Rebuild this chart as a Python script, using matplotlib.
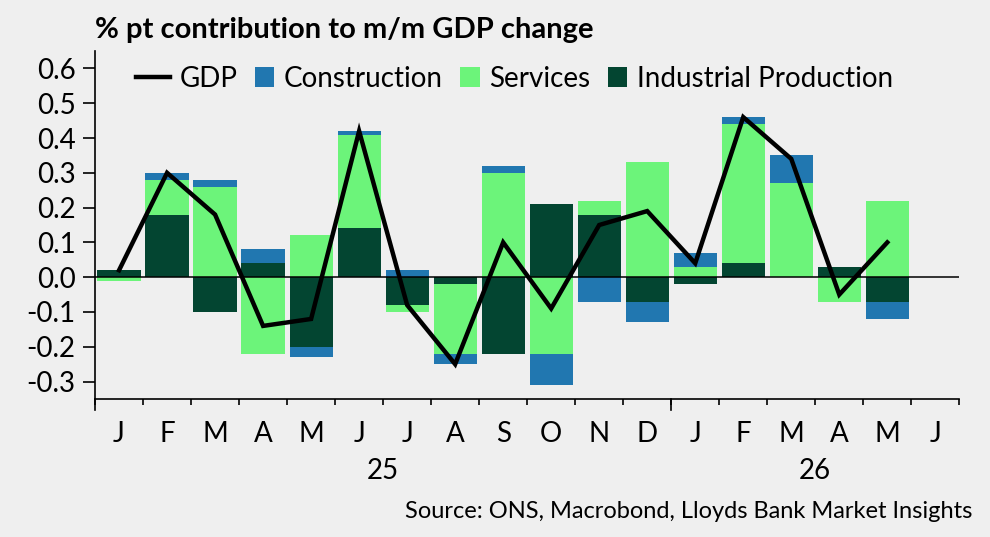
import numpy as np
import matplotlib
matplotlib.use("Agg")
from matplotlib import pyplot as plt
from matplotlib.lines import Line2D
from matplotlib.patches import Patch, Rectangle
from matplotlib.legend_handler import HandlerPatch

# monthly data, Jan 2025 - May 2026 (% pt contribution)
months = ["J", "F", "M", "A", "M", "J", "J", "A", "S", "O", "N", "D",
          "J", "F", "M", "A", "M", "J"]
years = ["25", "26"]
industrial = [0.02, 0.18, -0.10, 0.04, -0.20, 0.14, -0.08, -0.02, -0.22,
              0.21, 0.18, -0.07, -0.02, 0.04, 0.00, 0.03, -0.07]
services = [-0.01, 0.10, 0.26, -0.22, 0.12, 0.27, -0.02, -0.20, 0.30,
            -0.22, 0.04, 0.33, 0.03, 0.40, 0.27, -0.07, 0.22]
construction = [0.00, 0.02, 0.02, 0.04, -0.03, 0.01, 0.02, -0.03, 0.02,
                -0.09, -0.07, -0.06, 0.04, 0.02, 0.08, 0.00, -0.05]
gdp = [0.02, 0.30, 0.18, -0.14, -0.12, 0.42, -0.08, -0.25, 0.10,
       -0.09, 0.15, 0.19, 0.04, 0.46, 0.34, -0.05, 0.10]

bg = "#efefef"
c_con = "#2177b0"
c_ser = "#6cf47a"
c_ind = "#034531"
fs = 20


class SquareHandler(HandlerPatch):
    # square patch pushed to the right of the handle box
    def create_artists(self, legend, orig_handle, xdescent, ydescent,
                       width, height, fontsize, trans):
        s = fontsize * 0.7
        r = Rectangle((width - s - xdescent, -ydescent + (height - s) / 2), s, s,
                      facecolor=orig_handle.get_facecolor(), lw=0, transform=trans)
        return [r]


plt.rcParams['font.family'] = ['Lato', 'DejaVu Sans']

fig = plt.figure(figsize=(9.9, 5.37), dpi=100, facecolor=bg)
ax = fig.add_axes([0.096, 0.257, 0.873, 0.648], facecolor=bg)

x = np.arange(len(gdp))
pos = np.zeros(len(gdp))
neg = np.zeros(len(gdp))
for vals, col in [(industrial, c_ind), (services, c_ser), (construction, c_con)]:
    v = np.array(vals)
    bottom = np.where(v >= 0, pos, neg)
    ax.bar(x, v, 0.9, bottom=bottom, color=col, linewidth=0, zorder=2)
    pos = pos + np.where(v >= 0, v, 0)
    neg = neg + np.where(v < 0, v, 0)

ax.axhline(0, color="black", lw=1.1, zorder=3)
ax.plot(x, gdp, color="black", lw=3.2, zorder=4, solid_joinstyle="miter")

ax.set_xlim(-0.5, 17.5)
ax.set_ylim(-0.35, 0.65)
yt = np.arange(-0.3, 0.61, 0.1)
ax.set_yticks(yt)
ax.set_yticklabels(["%.1f" % t if abs(t) > 1e-9 else "0.0" for t in yt])
ax.tick_params(axis="y", labelsize=fs, length=9, width=1.2, pad=5)

# month labels centred in slots, ticks at month boundaries
ax.set_xticks(np.arange(-0.5, 18, 1))
ax.set_xticklabels([])
ax.tick_params(axis="x", length=4, width=1.2)
for i, m in enumerate(months):
    ax.text(i, -0.452, m, ha="center", va="center", fontsize=fs)
for xv in [-0.5, 11.5]:
    ax.plot([xv, xv], [-0.35, -0.382], color="black", lw=1.2, clip_on=False)
ax.text(5.5, -0.557, years[0], ha="center", va="center", fontsize=fs)
ax.text(14.5, -0.557, years[1], ha="center", va="center", fontsize=fs)

for s in ["top", "right"]:
    ax.spines[s].set_visible(False)
for s in ["left", "bottom"]:
    ax.spines[s].set_linewidth(1.2)

handles = [Line2D([0], [0], color="black", lw=3.2),
           Patch(color=c_con), Patch(color=c_ser), Patch(color=c_ind)]
labels = ["GDP", "Construction", "Services", "Industrial Production"]
ax.legend(handles, labels, ncol=4, frameon=False, fontsize=fs,
          loc="upper left", bbox_to_anchor=(0.035, 0.99),
          handlelength=1.2, handleheight=0.7, handletextpad=0.35,
          columnspacing=0.12, borderaxespad=0,
          handler_map={Patch: SquareHandler()})

fig.text(0.096, 0.944, "% pt contribution to m/m GDP change", fontsize=21,
         fontweight="bold", ha="left", va="center")
fig.text(0.982, 0.047, "Source: ONS, Macrobond, Lloyds Bank Market Insights",
         fontsize=17, ha="right", va="center")

fig.savefig("out.png", dpi=100, facecolor=bg)
